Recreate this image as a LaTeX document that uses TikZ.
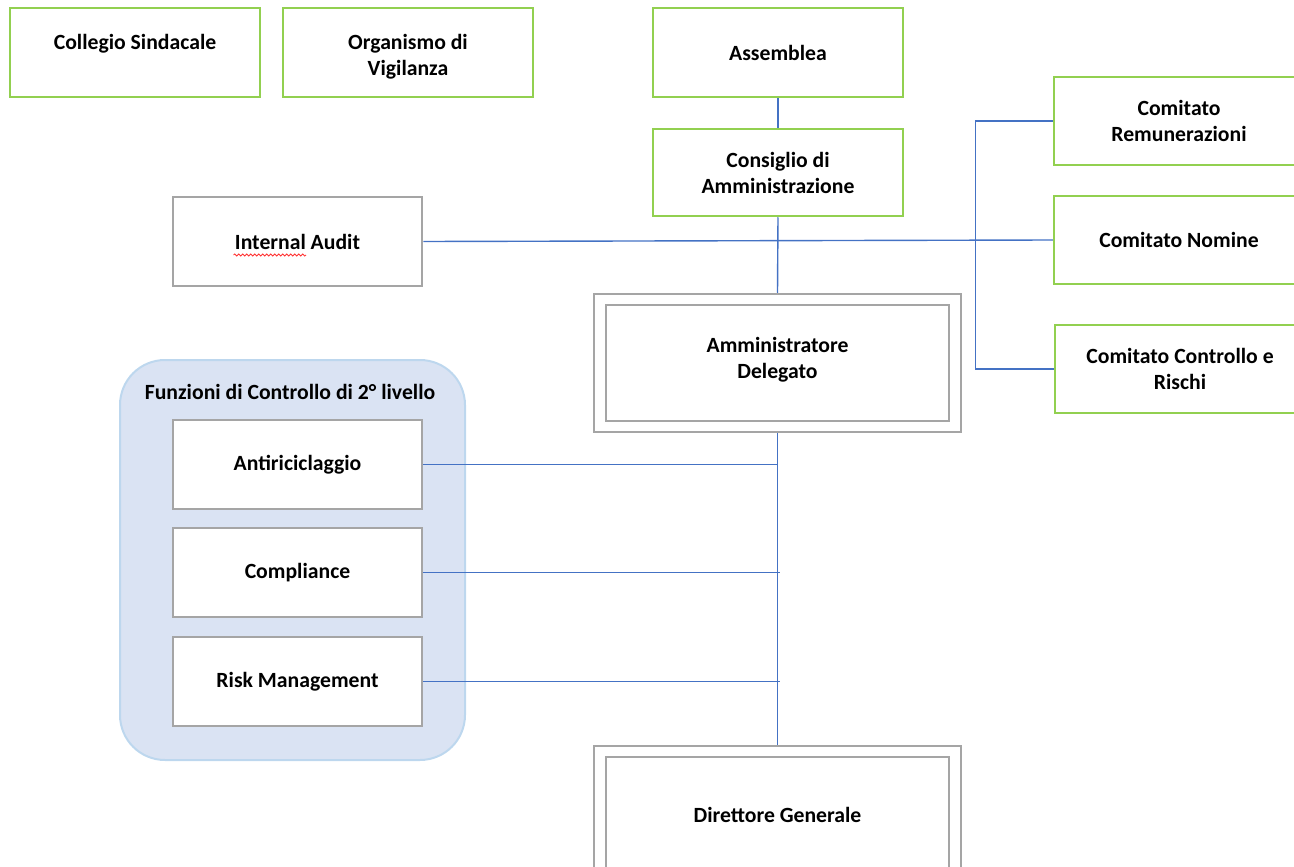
\documentclass[tikz,border=0pt]{standalone}
\usepackage{fontspec}
\setmainfont{Carlito}
\usetikzlibrary{decorations.pathmorphing}
\definecolor{offgreen}{HTML}{92D050}
\definecolor{offgray}{HTML}{A5A5A5}
\definecolor{offblue}{HTML}{4472C4}
\definecolor{grpfill}{HTML}{DAE3F3}
\definecolor{grpline}{HTML}{BDD7EE}
\tikzset{
  txt/.style={font=\bfseries\fontsize{21.7}{26}\selectfont, align=center, text=black},
  greenbox/.style={txt, draw=offgreen, line width=2.5pt, fill=white, minimum width=250pt, minimum height=89pt, inner sep=0pt},
  graybox/.style={txt, draw=offgray, line width=2.5pt, fill=white, minimum width=249pt, minimum height=89pt, inner sep=0pt},
  outerbox/.style={draw=offgray, line width=2.5pt, fill=white, minimum width=367pt, minimum height=138pt, inner sep=0pt},
  innerbox/.style={txt, draw=offgray, line width=2.5pt, minimum width=343pt, minimum height=116pt, inner sep=0pt},
  conn/.style={draw=offblue, line width=1.4pt},
  group/.style={fill=grpfill, draw=grpline, line width=2pt, rounded corners=45pt, minimum width=345pt, minimum height=400pt, inner sep=0pt},
  spell/.style={draw=red!80, line width=0.8pt, decorate, decoration={snake, amplitude=1pt, segment length=4pt}}
}
\begin{document}
\begin{tikzpicture}[x=1pt, y=-1pt]
\path[use as bounding box, clip] (0,0) rectangle (1294,867);

% group background
\node[group] (grp) at (292.5,560) {};
\node[txt, anchor=center] (grptitle) at (290,392) {Funzioni di Controllo di 2° livello};

% top row
\node[greenbox] (cs) at (135,52.5) {};
\node[txt] (cstext) at (135,44) {Collegio Sindacale};
\node[greenbox] (odv) at (408,52.5) {};
\node[txt] (odvtext) at (408,57) {Organismo di\\Vigilanza};
\node[greenbox] (ass) at (778,52.5) {Assemblea};
\node[greenbox, minimum height=87pt] (cda) at (778,172.5) {Consiglio di\\Amministrazione};

% committees
\node[greenbox, minimum height=88pt] (crem) at (1179,121) {Comitato\\Remunerazioni};
\node[greenbox, minimum height=88pt] (cnom) at (1179,240) {Comitato Nomine};
\node[greenbox, minimum height=88pt] (cctrl) at (1180,369) {Comitato Controllo e\\Rischi};

% internal audit
\node[graybox] (ia) at (297.5,241.5) {Internal Audit};
\coordinate (spA) at ([xshift=-64pt,yshift=-13.5pt]ia.center);
\coordinate (spB) at ([xshift=8.5pt,yshift=-13.5pt]ia.center);
\draw[spell] (spA) -- (spB);

% AD
\node[outerbox] (ad) at (777.5,363) {};
\node[innerbox] (adin) at (777.5,363) {};
\node[txt] (adtext) at (777.5,360) {Amministratore\\Delegato};

% DG
\node[outerbox] (dg) at (777.5,815) {};
\node[innerbox] (dgin) at (777.5,815) {Direttore Generale};

% control functions
\node[graybox] (anti) at (297.5,464.5) {Antiriciclaggio};
\node[graybox] (comp) at (297.5,572.5) {Compliance};
\node[graybox] (risk) at (297.5,681.5) {Risk Management};

% connectors
\draw[conn] (ass.south) -- (cda.north);
\draw[conn] (cda.south) -- (ad.north);
\draw[conn] (ad.south) -- (dg.north);
\draw[conn] (ia.east) -- (cnom.west);
\coordinate (busTop) at ([xshift=-77pt]crem.west);
\draw[conn] (crem.west) -- (busTop) |- (cctrl.west);
\draw[conn] (anti.east) -- (anti.east -| ad.south);
\draw[conn] (comp.east) -- ([xshift=2pt]comp.east -| ad.south);
\draw[conn] (risk.east) -- ([xshift=2pt]risk.east -| ad.south);
\end{tikzpicture}
\end{document}
